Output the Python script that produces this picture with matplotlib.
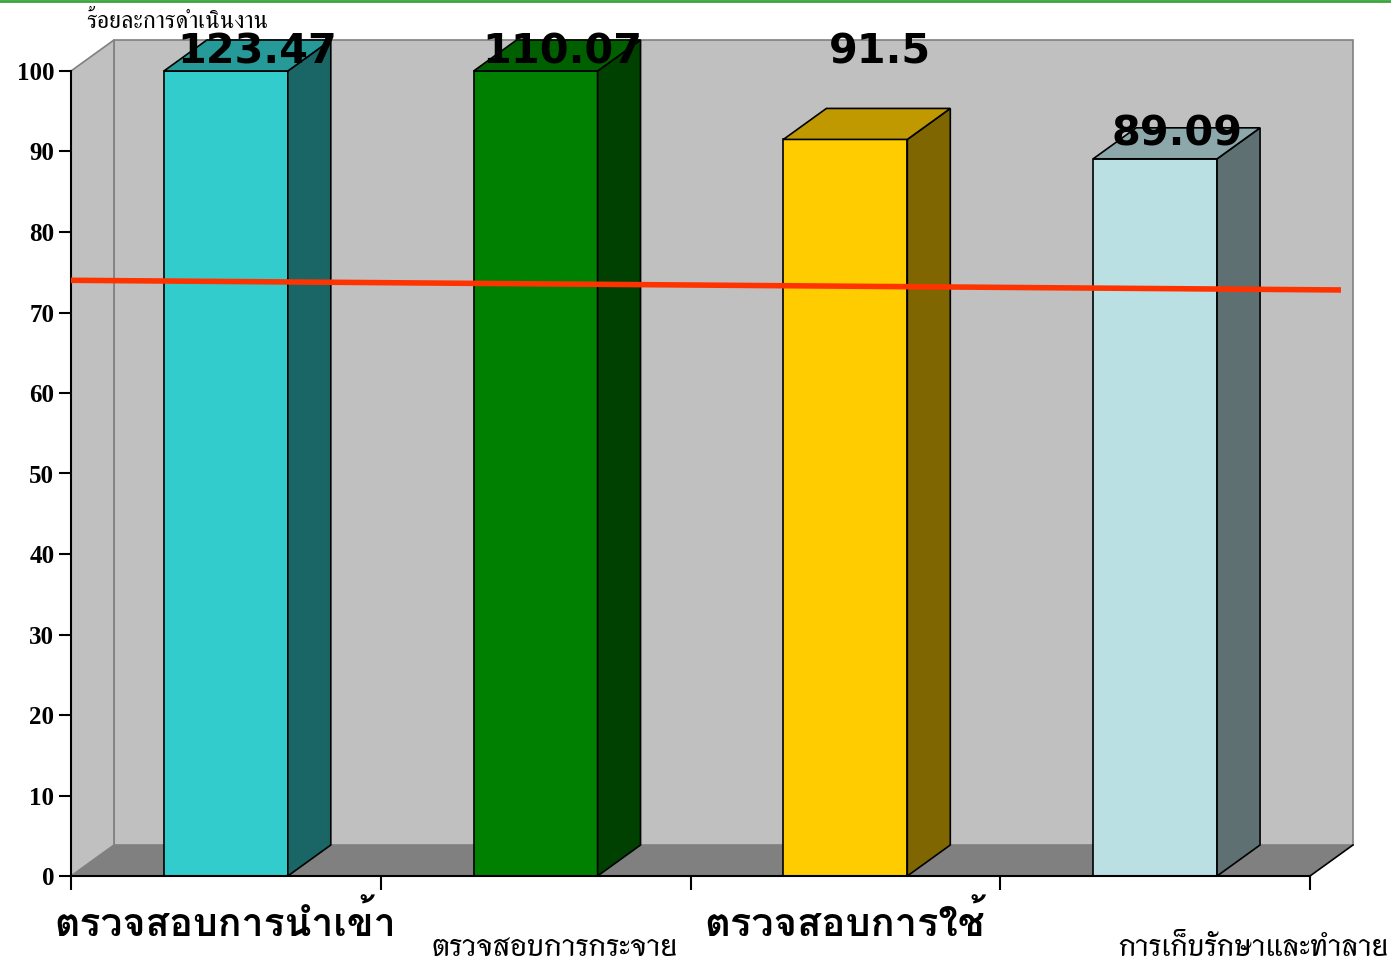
import matplotlib
matplotlib.use("Agg")
import matplotlib.pyplot as plt
from matplotlib.patches import Polygon

# ---- data ----
categories = ["ตรวจสอบการนำเข้า", "ตรวจสอบการกระจาย", "ตรวจสอบการใช้", "การเก็บรักษาและทำลาย"]
values = [123.47, 110.07, 91.5, 89.09]
value_labels = ["123.47", "110.07", "91.5", "89.09"]
target_x = [0.0, 4.1]
target_y = [74.0, 72.8]
y_ticks = [0, 10, 20, 30, 40, 50, 60, 70, 80, 90, 100]
y_title = "ร้อยละการดำเนินงาน"

front_colors = ["#33CCCC", "#008000", "#FFCC00", "#BBE0E3"]
side_colors = ["#1A6666", "#004000", "#806600", "#5E7072"]
top_colors = ["#269999", "#006000", "#C09900", "#8CA8AA"]

W, H = 1391, 963
fig = plt.figure(figsize=(W / 100, H / 100), dpi=100)
fig.patch.set_facecolor("white")
ax = fig.add_axes([71 / W, (H - 876) / H, 1239 / W, 805 / H])
ax.set_xlim(0, 4)
ax.set_ylim(0, 100)
ax.patch.set_visible(False)

dx = 43 / 310
dy = 31 / 8.05

# walls and floor
ax.add_patch(Polygon([(dx, dy), (4 + dx, dy), (4 + dx, 100 + dy), (dx, 100 + dy)], closed=True,
                     facecolor="#C0C0C0", edgecolor="#808080", lw=1.2, clip_on=False, zorder=1))
ax.add_patch(Polygon([(0, 0), (0, 100), (dx, 100 + dy), (dx, dy)], closed=True,
                     facecolor="#C0C0C0", edgecolor="#808080", lw=1.2, clip_on=False, zorder=1))
ax.add_patch(Polygon([(0, 0), (4, 0), (4 + dx, dy), (dx, dy)], closed=True,
                     facecolor="#808080", edgecolor="none", clip_on=False, zorder=1.5))
ax.plot([4, 4 + dx], [0, dy], color="black", lw=1.2, clip_on=False, zorder=1.6)

# 3D bars (display clipped at axis max)
bw = 0.4
ymax = 100
for i, v in enumerate(values):
    c = i + 0.5
    h = min(v, ymax)
    l, r = c - bw / 2, c + bw / 2
    ax.add_patch(Polygon([(l, 0), (r, 0), (r, h), (l, h)], closed=True,
                         facecolor=front_colors[i], edgecolor="black", lw=1.2, clip_on=False, zorder=3))
    ax.add_patch(Polygon([(r, 0), (r + dx, dy), (r + dx, h + dy), (r, h)], closed=True,
                         facecolor=side_colors[i], edgecolor="black", lw=1.2, clip_on=False, zorder=3))
    ax.add_patch(Polygon([(l, h), (r, h), (r + dx, h + dy), (l + dx, h + dy)], closed=True,
                         facecolor=top_colors[i], edgecolor="black", lw=1.2, clip_on=False, zorder=3))

# value labels (Excel-like placement)
label_dx = [0.10, 0.085, 0.11, 0.07]
label_base_px = [63, 63, 63, 145]
for i, lab in enumerate(value_labels):
    yv = (876 - label_base_px[i]) / 8.05
    ax.text(i + 0.5 + label_dx[i], yv, lab, ha="center", va="baseline",
            fontsize=29.8, fontweight="bold", family="DejaVu Sans", color="black",
            zorder=6, clip_on=False)

# target line
ax.plot(target_x, target_y, color="#FF3300", lw=4, solid_capstyle="butt", zorder=5, clip_on=False)

# axes styling
for s in ["top", "right"]:
    ax.spines[s].set_visible(False)
for s in ["left", "bottom"]:
    ax.spines[s].set_color("black")
    ax.spines[s].set_linewidth(1.5)
    ax.spines[s].set_zorder(4)
ax.set_yticks(y_ticks)
ax.set_yticklabels([str(t) for t in y_ticks], fontsize=18, fontweight="bold", family="Liberation Serif")
ax.tick_params(axis="y", direction="out", length=9, width=1.5, pad=3)
ax.set_xticks([0, 1, 2, 3, 4])
ax.set_xticklabels([])
ax.tick_params(axis="x", direction="out", length=10, width=1.5)

fig.canvas.draw()
renderer = fig.canvas.get_renderer()


def fitted_text(s, left_px, right_px, base_px, family, weight, scale=1.0):
    t = fig.text((left_px + right_px) / 2 / W, 1 - base_px / H, s, ha="center", va="baseline",
                 fontsize=20, fontweight=weight, family=family)
    w = t.get_window_extent(renderer).width
    t.set_fontsize(20 * scale * (right_px - left_px) / w)
    return t


# category labels
cat_left = [45, 432, 697, 1118]
cat_right = [405, 678, 993, 1388]
cat_base = [936, 956, 936, 956]
cat_scale = [0.95, 1.0, 0.95, 1.0]
cat_family = [["Loma", "DejaVu Sans"], ["Thasadith", "DejaVu Sans"],
              ["Loma", "DejaVu Sans"], ["Thasadith", "DejaVu Sans"]]
cat_weight = ["bold", "bold", "bold", "bold"]
for i, cat in enumerate(categories):
    fitted_text(cat, cat_left[i], cat_right[i], cat_base[i], cat_family[i], cat_weight[i], cat_scale[i])

fitted_text(y_title, 86, 268, 28, ["FreeSerif", "DejaVu Sans"], "normal")

# top green line
fig.add_artist(plt.Line2D([0, 1], [1 - 1 / H, 1 - 1 / H], color="#3AA53A", lw=2))

fig.savefig("out.png", dpi=100)
